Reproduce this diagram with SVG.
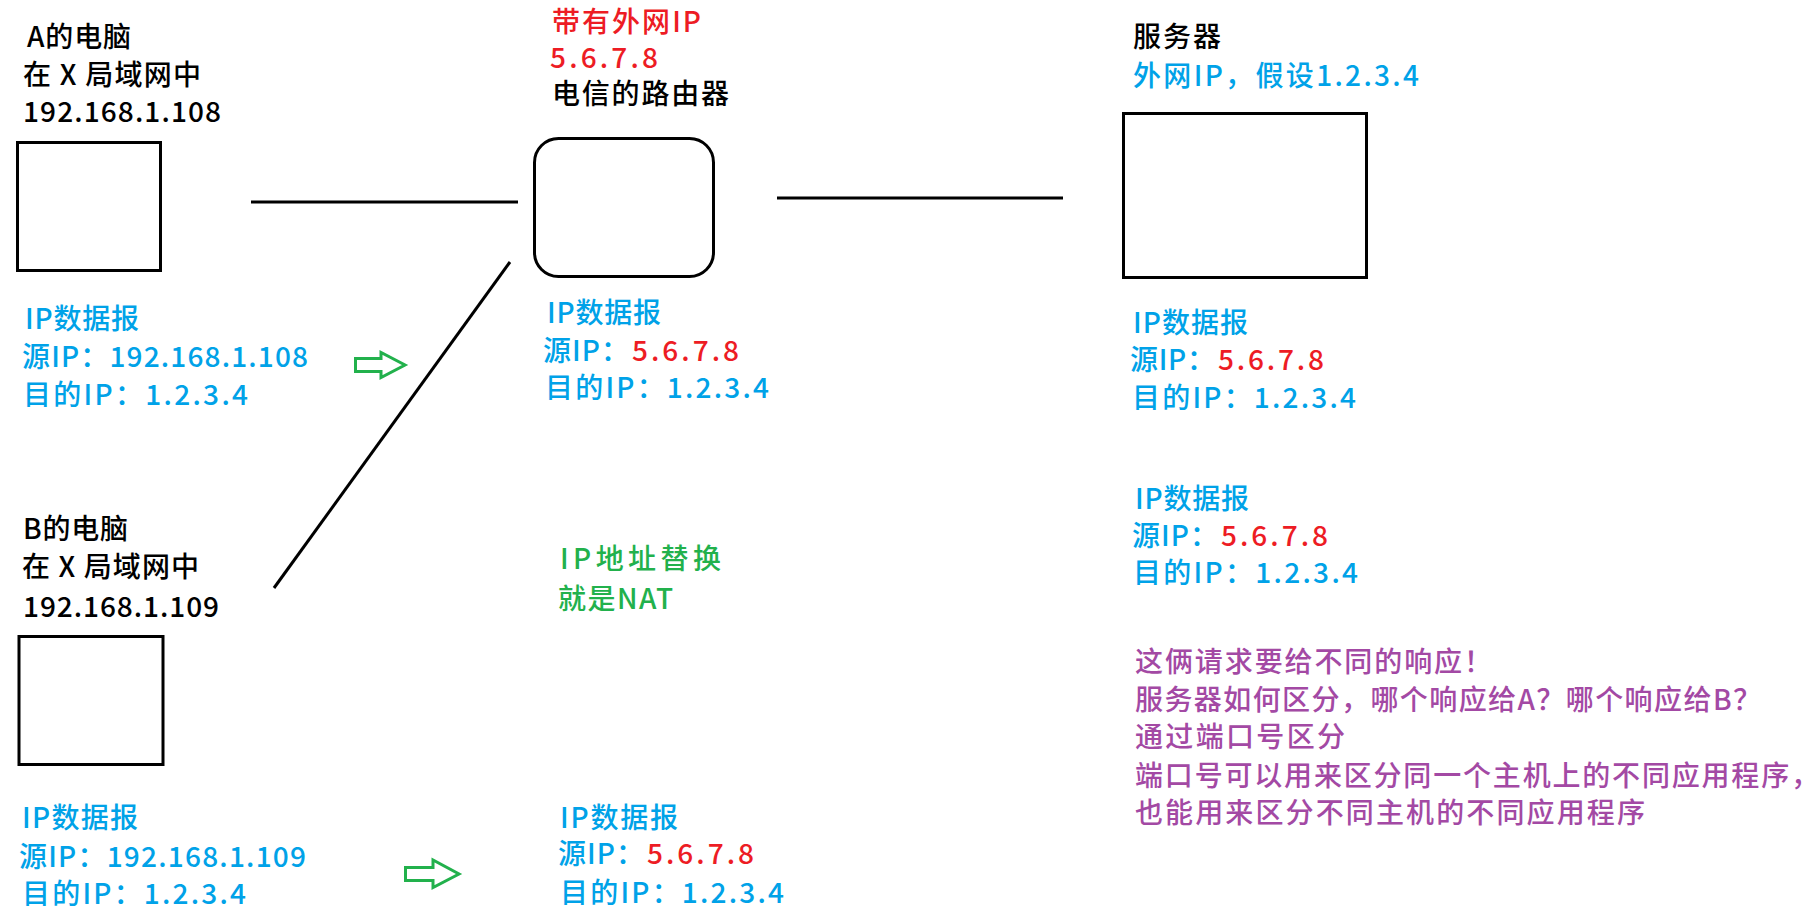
<svg xmlns="http://www.w3.org/2000/svg" width="1818" height="914" viewBox="0 0 1818 914">
<style>
text{font-family:"Noto Sans CJK SC","Liberation Sans",sans-serif;font-size:28px;font-weight:500}
.k{fill:#000}
.b{fill:#00a2e8}
.r{fill:#ed1c24}
.g{fill:#22b14c}
.p{fill:#a349a4}
.box{fill:#fff;stroke:#000;stroke-width:3}
.ln{stroke:#000;stroke-width:3;fill:none}
.arr{fill:none;stroke:#22b14c;stroke-width:3;stroke-linejoin:miter}
</style>
<rect width="1818" height="914" fill="#fff"/>
<g id="connectors">
<line class="ln" x1="251" y1="202" x2="518" y2="202"/>
<line class="ln" x1="777" y1="198" x2="1063" y2="198"/>
<line class="ln" x1="510" y1="262" x2="274" y2="588"/>
</g>
<g id="pcA">
<text class="k" x="27" y="47" textLength="104" lengthAdjust="spacing">A的电脑</text>
<text class="k" x="23" y="85" textLength="178" lengthAdjust="spacing">在 X 局域网中</text>
<text class="k" x="23" y="122" textLength="198" lengthAdjust="spacing">192.168.1.108</text>
<rect class="box" x="17.5" y="142.5" width="143" height="128"/>
</g>
<g id="pktA">
<text class="b" x="25" y="329" textLength="114" lengthAdjust="spacing">IP数据报</text>
<text class="b" x="22" y="367" textLength="286" lengthAdjust="spacing">源IP：192.168.1.108</text>
<text class="b" x="23" y="405" textLength="225" lengthAdjust="spacing">目的IP：1.2.3.4</text>
</g>
<g id="arrowA"><polygon class="arr" points="355.5,358.5 381,358.5 381,352.5 405,365 381,377.5 381,371.5 355.5,371.5"/></g>
<g id="router">
<text class="r" x="552" y="32" textLength="149" lengthAdjust="spacing">带有外网IP</text>
<text class="r" x="550" y="68" textLength="108" lengthAdjust="spacing">5.6.7.8</text>
<text class="k" x="552" y="104" textLength="177" lengthAdjust="spacing">电信的路由器</text>
<rect class="box" x="534.5" y="138.5" width="179" height="138" rx="24" ry="24"/>
</g>
<g id="pktRouterTop">
<text class="b" x="547" y="323" textLength="114" lengthAdjust="spacing">IP数据报</text>
<text class="b" x="543" y="361" textLength="86" lengthAdjust="spacing">源IP：</text>
<text class="r" x="632" y="361" textLength="107" lengthAdjust="spacing">5.6.7.8</text>
<text class="b" x="545" y="398" textLength="224" lengthAdjust="spacing">目的IP：1.2.3.4</text>
</g>
<g id="nat">
<text class="g" x="560" y="569" textLength="161" lengthAdjust="spacing">IP地址替换</text>
<text class="g" x="558" y="609" textLength="115" lengthAdjust="spacing">就是NAT</text>
</g>
<g id="pcB">
<text class="k" x="23" y="539" textLength="105" lengthAdjust="spacing">B的电脑</text>
<text class="k" x="22" y="577" textLength="177" lengthAdjust="spacing">在 X 局域网中</text>
<text class="k" x="23" y="617" textLength="196" lengthAdjust="spacing">192.168.1.109</text>
<rect class="box" x="19" y="636.5" width="144" height="128"/>
</g>
<g id="pktB">
<text class="b" x="22" y="828" textLength="116" lengthAdjust="spacing">IP数据报</text>
<text class="b" x="19" y="867" textLength="287" lengthAdjust="spacing">源IP：192.168.1.109</text>
<text class="b" x="22" y="904" textLength="224" lengthAdjust="spacing">目的IP：1.2.3.4</text>
</g>
<g id="arrowB"><polygon class="arr" points="405.5,867.5 433,867.5 433,860 459,874 433,887.5 433,880.5 405.5,880.5"/></g>
<g id="pktRouterBottom">
<text class="b" x="560" y="828" textLength="118" lengthAdjust="spacing">IP数据报</text>
<text class="b" x="558" y="864" textLength="86" lengthAdjust="spacing">源IP：</text>
<text class="r" x="647" y="864" textLength="107" lengthAdjust="spacing">5.6.7.8</text>
<text class="b" x="560" y="903" textLength="224" lengthAdjust="spacing">目的IP：1.2.3.4</text>
</g>
<g id="server">
<text class="k" x="1133" y="47" textLength="88" lengthAdjust="spacing">服务器</text>
<text class="b" x="1133" y="86" textLength="286" lengthAdjust="spacing">外网IP，假设1.2.3.4</text>
<rect class="box" x="1123.5" y="113.5" width="243" height="164"/>
</g>
<g id="pktServer1">
<text class="b" x="1133" y="333" textLength="115" lengthAdjust="spacing">IP数据报</text>
<text class="b" x="1130" y="370" textLength="85" lengthAdjust="spacing">源IP：</text>
<text class="r" x="1218" y="370" textLength="106" lengthAdjust="spacing">5.6.7.8</text>
<text class="b" x="1132" y="408" textLength="224" lengthAdjust="spacing">目的IP：1.2.3.4</text>
</g>
<g id="pktServer2">
<text class="b" x="1135" y="509" textLength="114" lengthAdjust="spacing">IP数据报</text>
<text class="b" x="1132" y="546" textLength="86" lengthAdjust="spacing">源IP：</text>
<text class="r" x="1221" y="546" textLength="107" lengthAdjust="spacing">5.6.7.8</text>
<text class="b" x="1133" y="583" textLength="225" lengthAdjust="spacing">目的IP：1.2.3.4</text>
</g>
<g id="note">
<text class="p" x="1135" y="672" textLength="357" lengthAdjust="spacing">这俩请求要给不同的响应！</text>
<text class="p" x="1135" y="710" textLength="626" lengthAdjust="spacing">服务器如何区分，哪个响应给A？哪个响应给B？</text>
<text class="p" x="1135" y="747" textLength="210" lengthAdjust="spacing">通过端口号区分</text>
<text class="p" x="1135" y="786" textLength="684" lengthAdjust="spacing">端口号可以用来区分同一个主机上的不同应用程序，</text>
<text class="p" x="1135" y="823" textLength="510" lengthAdjust="spacing">也能用来区分不同主机的不同应用程序</text>
</g>
</svg>
